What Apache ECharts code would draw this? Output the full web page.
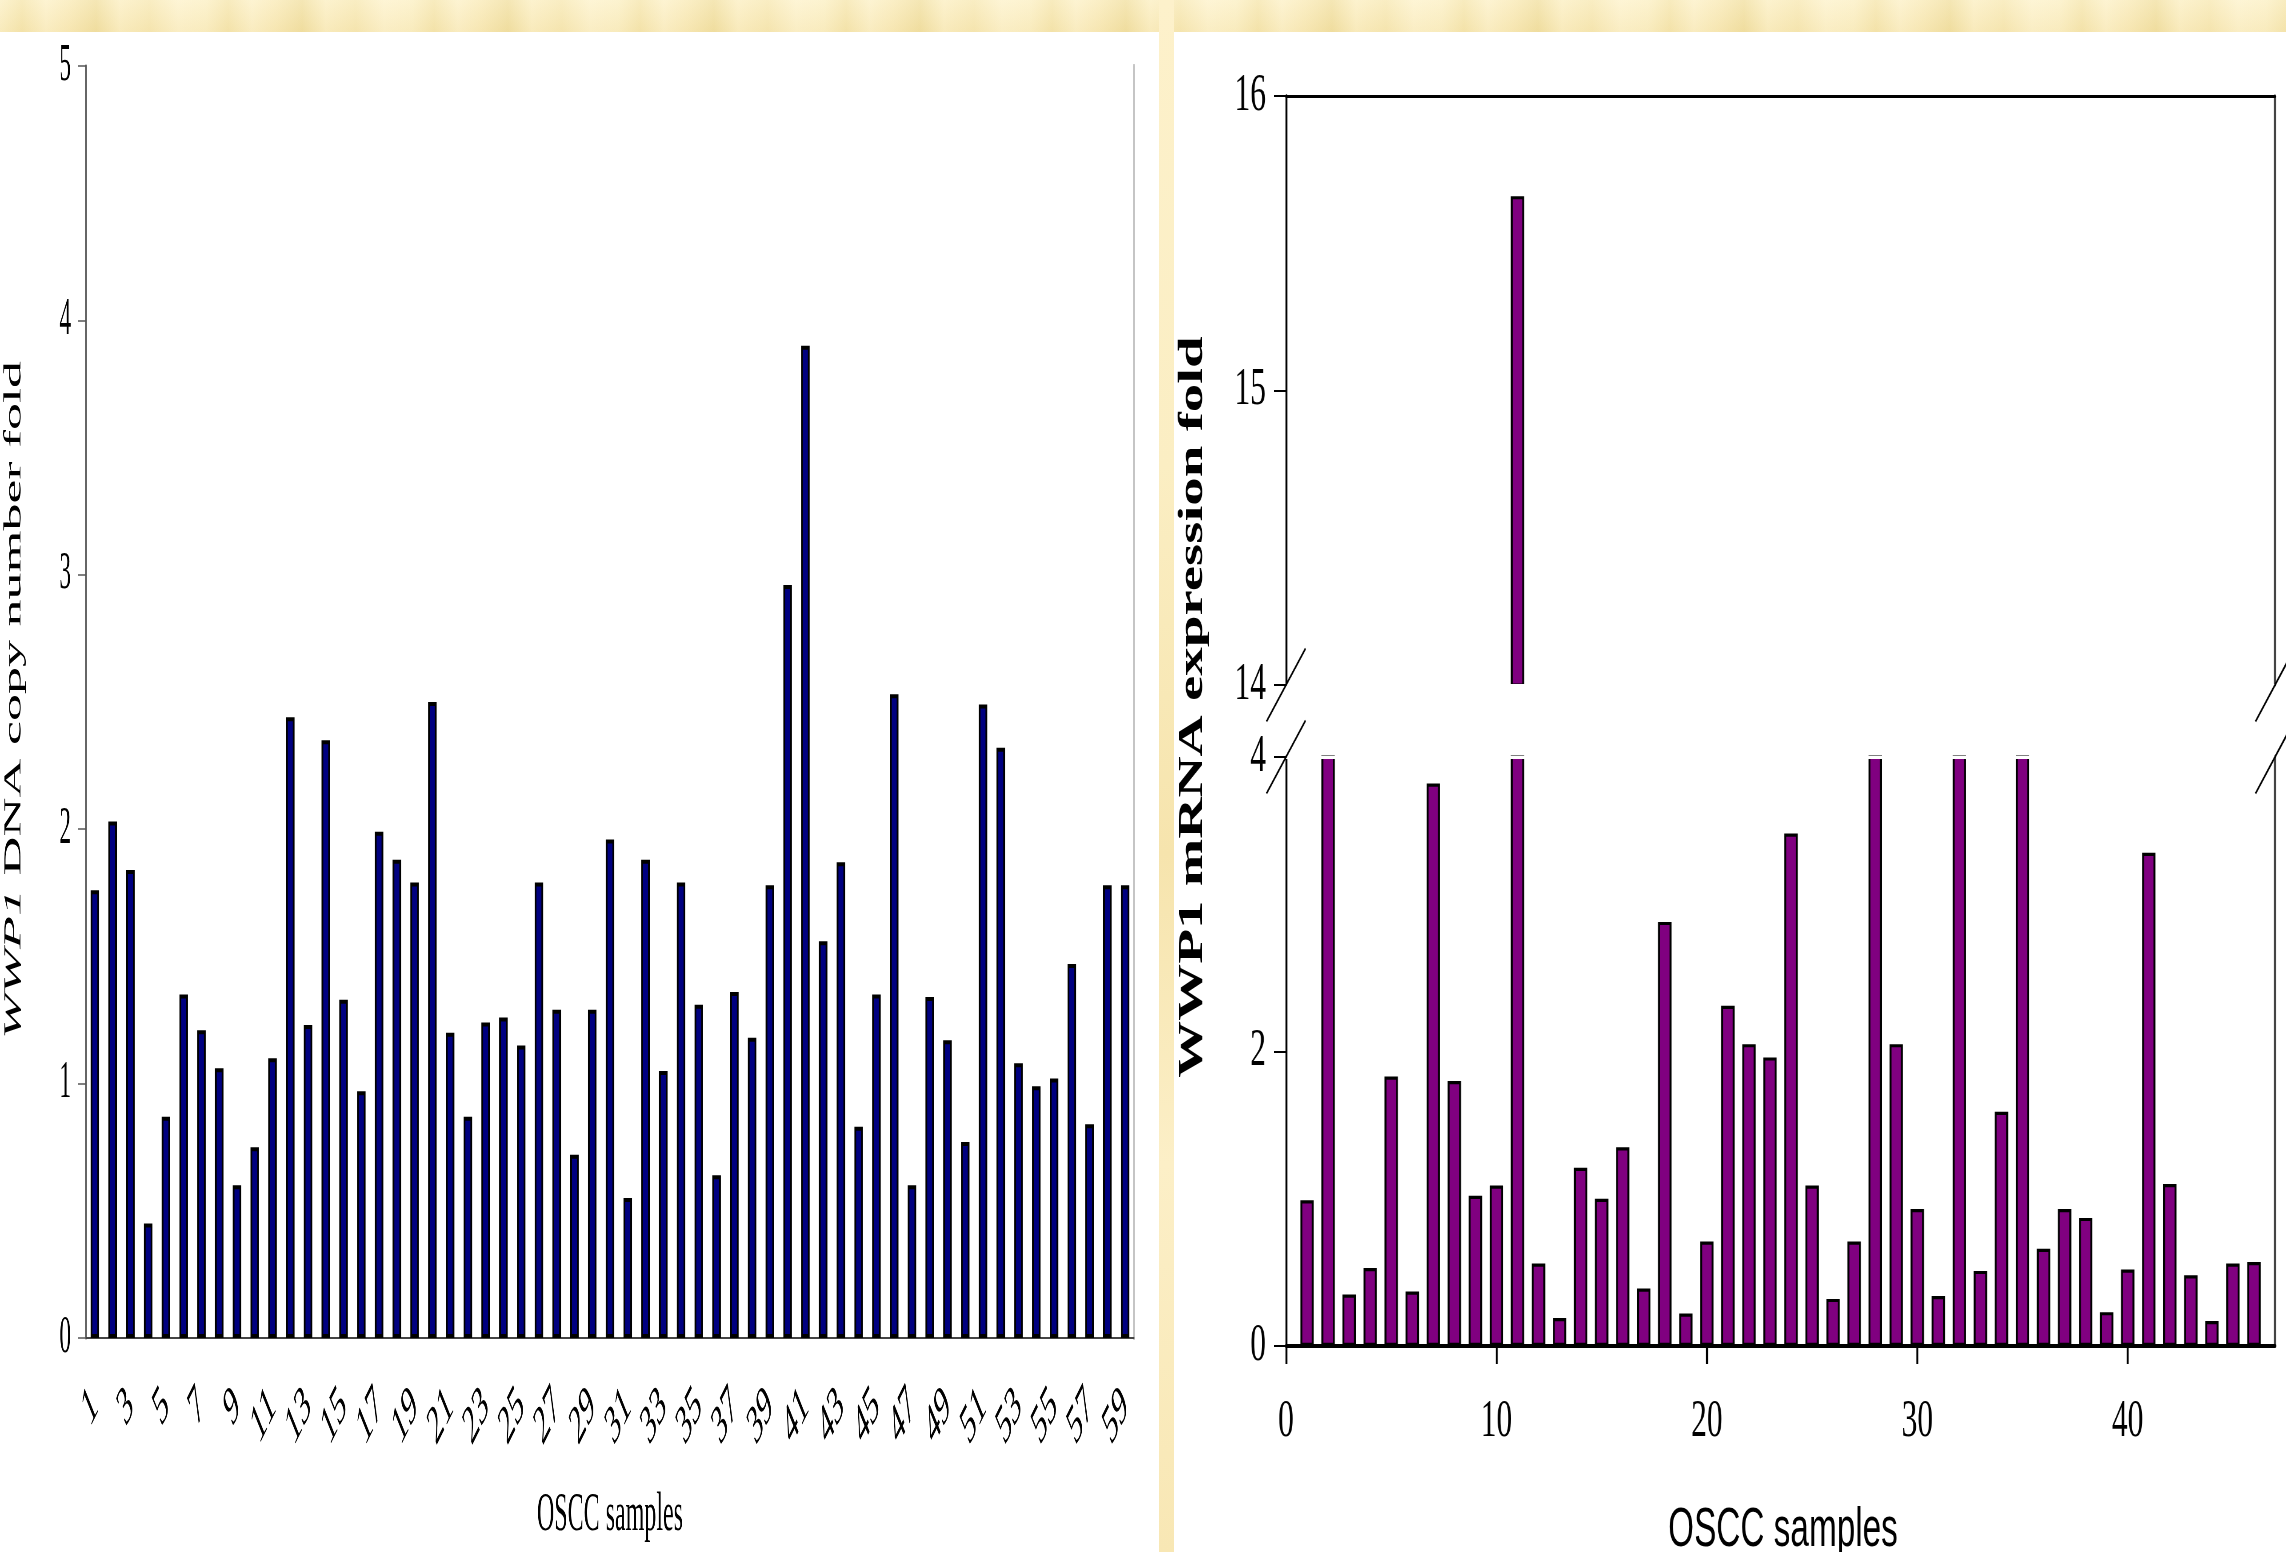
<!DOCTYPE html>
<html>
<head>
<meta charset="utf-8">
<title>WWP1 copy number and mRNA expression in OSCC samples</title>
<script src="https://cdn.jsdelivr.net/npm/echarts@6/dist/echarts.min.js"></script>
<style>
  html, body { margin: 0; padding: 0; background: #fff; }
  body { width: 2286px; height: 1552px; position: relative; overflow: hidden; }
  #band {
    position: absolute; left: 0; top: 0; width: 2286px; height: 32px;
    background:
      linear-gradient(180deg, rgba(255,250,225,0.35), rgba(240,222,160,0.25)),
      repeating-linear-gradient(90deg,
        #fbefc6 0px, #f4e3ab 22px, #fcf0ca 46px, #f8e8b6 70px,
        #efdc9d 96px, #fbeec4 120px, #f6e6b2 150px, #fdf2cf 178px, #fbefc6 206px);
  }
  #sep {
    position: absolute; left: 1159px; top: 0; width: 15px; height: 1552px;
    background: linear-gradient(180deg, #fdf1cb 0%, #fbeec3 30%, #f6e4ad 55%, #fcefc7 75%, #f8e7b4 100%);
  }
  .panel { position: absolute; top: 0; height: 1552px; transform-origin: 0 0; }
</style>
</head>
<body>
<div id="band"></div>
<div id="sep"></div>
<div id="copy" class="panel"></div>
<div id="expr" class="panel"></div>
<script>
// ---- data: WWP1 DNA copy number fold, samples 1-59 ----
const copySamples = ['1','2','3','4','5','6','7','8','9','10','11','12','13','14','15','16','17','18','19','20',
  '21','22','23','24','25','26','27','28','29','30','31','32','33','34','35','36','37','38','39','40',
  '41','42','43','44','45','46','47','48','49','50','51','52','53','54','55','56','57','58','59'];
const copyFold = [1.76, 2.03, 1.84, 0.45, 0.87, 1.35, 1.21, 1.06, 0.60, 0.75,
  1.10, 2.44, 1.23, 2.35, 1.33, 0.97, 1.99, 1.88, 1.79, 2.50,
  1.20, 0.87, 1.24, 1.26, 1.15, 1.79, 1.29, 0.72, 1.29, 1.96,
  0.55, 1.88, 1.05, 1.79, 1.31, 0.64, 1.36, 1.18, 1.78, 2.96,
  3.90, 1.56, 1.87, 0.83, 1.35, 2.53, 0.60, 1.34, 1.17, 0.77,
  2.49, 2.32, 1.08, 0.99, 1.02, 1.47, 0.84, 1.78, 1.78];
const copyTicks = [0, 1, 2, 3, 4, 5];

// ---- data: WWP1 mRNA expression fold, samples 1-46 ----
const exprSamples = [1, 2, 3, 4, 5, 6, 7, 8, 9, 10, 11, 12, 13, 14, 15, 16, 17, 18, 19, 20, 21, 22, 23,
  24, 25, 26, 27, 28, 29, 30, 31, 32, 33, 34, 35, 36, 37, 38, 39, 40, 41, 42, 43, 44, 45, 46];
const exprFold = [0.99, 5.2, 0.35, 0.53, 1.83, 0.37, 3.82, 1.80, 1.02, 1.09,
  15.66, 0.56, 0.19, 1.21, 1.00, 1.35, 0.39, 2.88, 0.22, 0.71,
  2.31, 2.05, 1.96, 3.48, 1.09, 0.32, 0.71, 4.9, 2.05, 0.93,
  0.34, 6.3, 0.51, 1.59, 4.4, 0.66, 0.93, 0.87, 0.23, 0.52,
  3.35, 1.10, 0.48, 0.17, 0.56, 0.57];
const exprXTicks = [0, 10, 20, 30, 40];
const exprUpperTicks = [14, 15, 16];
const exprLowerTicks = [0, 2, 4];

// Each panel is drawn wide and squeezed horizontally, giving the tall, narrow lettering.
const kL = 2.25, kR = 1.65;
const copyLeft = 0, copyWidth = 1159;
const exprLeft = 1174, exprWidth = 1112;

function setupPanel(id, left, width, k) {
  const el = document.getElementById(id);
  el.style.left = left + 'px';
  el.style.width = (width * k) + 'px';
  el.style.transform = 'scaleX(' + (1 / k) + ')';
  return echarts.init(el, null, { renderer: 'canvas' });
}

const serif = 'Liberation Serif, Times New Roman, serif';
const sans = 'Liberation Sans, Arial, sans-serif';

// ---------------- left panel: copy number ----------------
const L = x => (x - copyLeft) * kL;
const copyChart = setupPanel('copy', copyLeft, copyWidth, kL);
copyChart.setOption({
  animation: false,
  backgroundColor: 'transparent',
  grid: { left: L(86), top: 66, width: L(1134) - L(86), height: 1338 - 66,
          containLabel: false, outerBoundsMode: 'none' },
  xAxis: [{
    type: 'category', data: copySamples, boundaryGap: true,
    axisLine: { lineStyle: { color: '#9a9a9a', width: 2 } },
    axisTick: { inside: true, interval: 0, length: 10, lineStyle: { color: '#b4b4b4', width: 2.2 } },
    axisLabel: { interval: 1, rotate: 42, margin: 60, color: '#000', fontFamily: serif, fontSize: 56 }
  }, {
    type: 'category', data: copySamples, position: 'top',
    axisLine: { lineStyle: { color: '#444', width: 2 } },
    axisTick: { show: false }, axisLabel: { show: false }
  }],
  yAxis: [{
    type: 'value', min: 0, max: 5, interval: 1,
    axisLine: { show: true, onZero: false, lineStyle: { color: '#555', width: 3.4 } },
    axisTick: { show: true, length: L(8), lineStyle: { color: '#555', width: 1.5 } },
    axisLabel: { margin: L(15), color: '#000', fontFamily: serif, fontSize: 52,
                 formatter: v => String(copyTicks[copyTicks.indexOf(v)]) },
    splitLine: { show: false }
  }, {
    type: 'value', min: 0, max: 5, position: 'right',
    axisLine: { show: true, onZero: false, lineStyle: { color: '#c4c4c4', width: 4.5 } },
    axisTick: { show: false }, axisLabel: { show: false }, splitLine: { show: false }
  }],
  series: [{
    type: 'bar', data: copyFold, barWidth: '48%',
    itemStyle: { color: '#000080', borderColor: '#000', borderWidth: 4 }
  }],
  graphic: [{
    type: 'text', x: L(14), y: 700, rotation: Math.PI / 2,
    style: {
      text: '{i|WWP1} DNA copy number fold',
      rich: { i: { fontStyle: 'italic', fontFamily: serif, fontSize: 54, fill: '#000' } },
      fontFamily: serif, fontSize: 54, fill: '#000',
      align: 'center', verticalAlign: 'middle', textAlign: 'center', textVerticalAlign: 'middle'
    }
  }, {
    type: 'text', x: L(610), y: 1516,
    style: {
      text: 'OSCC samples', fontFamily: serif, fontSize: 54, fill: '#000',
      align: 'center', verticalAlign: 'middle', textAlign: 'center', textVerticalAlign: 'middle'
    }
  }]
});

// ---------------- right panel: mRNA expression with broken axis ----------------
const R = x => (x - exprLeft) * kR;
const exprChart = setupPanel('expr', exprLeft, exprWidth, kR);
const exprPairs = exprSamples.map((s, i) => [s, exprFold[i]]);
const plotL = R(1286), plotW = R(2275) - R(1286);
const upper = { top: 96, height: 589 }, lower = { top: 757, height: 589 };

const yAxisCommon = {
  type: 'value',
  axisLine: { show: true, onZero: false, lineStyle: { color: '#000', width: 2 * kR } },
  axisTick: { show: true, length: 12 * kR, lineStyle: { color: '#000', width: 2 } },
  axisLabel: { margin: 20 * kR, color: '#000', fontFamily: serif, fontSize: 52 },
  splitLine: { show: false }
};
const rightEdge = {
  type: 'value', position: 'right',
  axisLine: { show: true, onZero: false, lineStyle: { color: '#444', width: 2 * kR } },
  axisTick: { show: false }, axisLabel: { show: false }, splitLine: { show: false }
};
const barStyle = { color: '#800080', borderColor: '#000', borderWidth: 3.2 };
const seam = v => ({
  silent: true, symbol: ['none', 'none'], label: { show: false }, z: 10,
  lineStyle: { color: '#fff', width: 3, type: 'solid' },
  emphasis: { disabled: true },
  data: [{ yAxis: v }]
});

// break marks across both axes at the gap
const breakMarks = [];
[1286, 2275].forEach(cx => {
  [685, 757].forEach(cy => {
    breakMarks.push({
      type: 'line', z: 100,
      shape: { x1: R(cx - 19.5), y1: cy + 36.5, x2: R(cx + 19.5), y2: cy - 36.5 },
      style: { stroke: '#000', lineWidth: 2.4 }
    });
  });
});

exprChart.setOption({
  animation: false,
  backgroundColor: 'transparent',
  grid: [
    { left: plotL, top: upper.top, width: plotW, height: upper.height, containLabel: false, outerBoundsMode: 'none' },
    { left: plotL, top: lower.top, width: plotW, height: lower.height, containLabel: false, outerBoundsMode: 'none' }
  ],
  xAxis: [{
    gridIndex: 0, type: 'value', min: 0, max: 47, position: 'top',
    axisLine: { onZero: false, lineStyle: { color: '#000', width: 3 } },
    axisTick: { show: false }, axisLabel: { show: false }, splitLine: { show: false }
  }, {
    gridIndex: 1, type: 'value', min: 0, max: 47, interval: 10, position: 'bottom',
    axisLine: { onZero: false, lineStyle: { color: '#000', width: 4 } },
    axisTick: { show: true, length: 18, customValues: exprXTicks, lineStyle: { color: '#000', width: 2 * kR } },
    axisLabel: { customValues: exprXTicks, margin: 50, color: '#000', fontFamily: serif, fontSize: 52 },
    splitLine: { show: false }
  }],
  yAxis: [
    Object.assign({}, yAxisCommon, { gridIndex: 0, min: exprUpperTicks[0], max: exprUpperTicks[2], interval: 1 }),
    Object.assign({}, rightEdge, { gridIndex: 0, min: exprUpperTicks[0], max: exprUpperTicks[2] }),
    Object.assign({}, yAxisCommon, { gridIndex: 1, min: exprLowerTicks[0], max: exprLowerTicks[2], interval: 2 }),
    Object.assign({}, rightEdge, { gridIndex: 1, min: exprLowerTicks[0], max: exprLowerTicks[2] })
  ],
  series: [{
    type: 'bar', xAxisIndex: 0, yAxisIndex: 0, data: exprPairs, barWidth: 13.4 * kR, clip: true,
    itemStyle: barStyle, markLine: seam(exprUpperTicks[0])
  }, {
    type: 'bar', xAxisIndex: 1, yAxisIndex: 2, data: exprPairs, barWidth: 13.4 * kR, clip: true,
    itemStyle: barStyle, markLine: seam(exprLowerTicks[2])
  }],
  graphic: breakMarks.concat([{
    type: 'text', x: R(1193), y: 707, rotation: Math.PI / 2,
    style: {
      text: 'WWP1 mRNA expression fold', fontFamily: serif, fontWeight: 'bold', fontSize: 57, fill: '#000',
      align: 'center', verticalAlign: 'middle', textAlign: 'center', textVerticalAlign: 'middle'
    }
  }, {
    type: 'text', x: R(1783), y: 1531,
    style: {
      text: 'OSCC samples', fontFamily: sans, fontSize: 55, fill: '#000',
      align: 'center', verticalAlign: 'middle', textAlign: 'center', textVerticalAlign: 'middle'
    }
  }])
});
</script>
</body>
</html>
